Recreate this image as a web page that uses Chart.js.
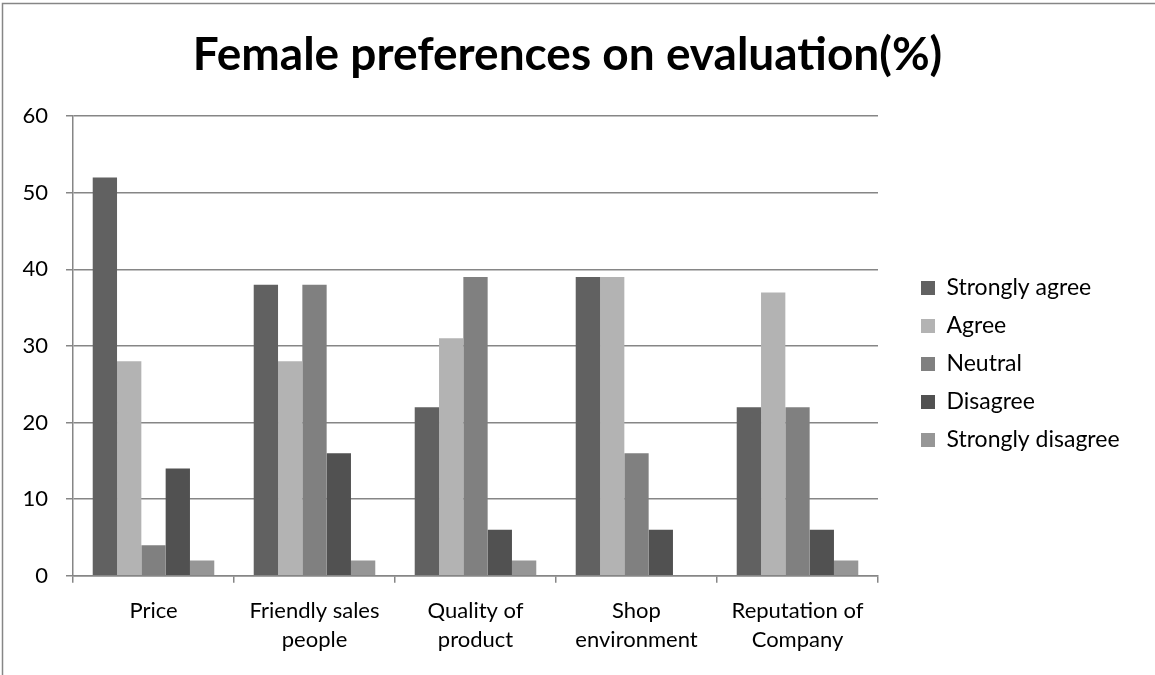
<!DOCTYPE html>
<html>
<head>
<meta charset="utf-8">
<script src="https://cdn.jsdelivr.net/npm/chart.js@4"></script>
<style>
  html, body { margin: 0; padding: 0; background: #fff; }
  #wrap { width: 1155px; height: 675px; }
</style>
</head>
<body>
<div id="wrap"><canvas id="evalChart" width="1155" height="675"></canvas></div>
<script>
const categories = [['Price'], ['Friendly sales', 'people'], ['Quality of', 'product'], ['Shop', 'environment'], ['Reputation of', 'Company']];
const seriesNames = ['Strongly agree', 'Agree', 'Neutral', 'Disagree', 'Strongly disagree'];
const stronglyAgree = [52, 38, 22, 39, 22];
const agree = [28, 28, 31, 39, 37];
const neutral = [4, 38, 39, 16, 22];
const disagree = [14, 16, 6, 6, 6];
const stronglyDisagree = [2, 2, 2, 0, 2];
const yTicks = [0, 10, 20, 30, 40, 50, 60];

const colors = ['#616161', '#b3b3b3', '#808080', '#515151', '#969696'];
const allValues = [stronglyAgree, agree, neutral, disagree, stronglyDisagree];
const fontName = 'Lato, "Liberation Sans", sans-serif';

// frame round the chart, only left and top edges show
const framePlugin = {
    id: 'frame',
    beforeDraw(chart) {
        const c = chart.ctx;
        c.save();
        c.fillStyle = '#fff';
        c.fillRect(0, 0, chart.width, chart.height);
        c.strokeStyle = '#868686';
        c.lineWidth = 1.5;
        c.beginPath();
        c.moveTo(2.5, 675);
        c.lineTo(2.5, 3.5);
        c.lineTo(1155, 3.5);
        c.stroke();
        c.restore();
    }
};

// give the legend a fixed width and nudge it like the excel one
const legendPlugin = {
    id: 'legendPlace',
    beforeLayout(chart) {
        const lg = chart.legend;
        if (lg && !lg._patched) {
            const origFit = lg.fit;
            lg.fit = function() {
                origFit.call(this);
                this.width = 247;
            };
            lg._patched = true;
        }
    },
    afterLayout(chart) {
        const lg = chart.legend;
        lg.left += 28; lg.right += 28;
        lg.top += 30; lg.bottom += 30;
    }
};

const ctx = document.getElementById('evalChart').getContext('2d');
new Chart(ctx, {
    type: 'bar',
    data: {
        labels: categories,
        datasets: seriesNames.map((name, i) => ({
            label: name,
            data: allValues[i],
            backgroundColor: colors[i],
            borderWidth: 0,
            barPercentage: 1.0,
            categoryPercentage: 0.755
        }))
    },
    options: {
        responsive: false,
        animation: false,
        layout: { padding: { left: 10, right: 30, top: 0, bottom: 7 } },
        plugins: {
            title: {
                display: true,
                text: 'Female preferences on evaluation(%)',
                color: '#000',
                font: { family: fontName, size: 46, weight: 'bold' },
                padding: { top: 28, bottom: 33 }
            },
            legend: {
                position: 'right',
                labels: {
                    color: '#000',
                    boxWidth: 14,
                    boxHeight: 14,
                    padding: 15,
                    font: { family: fontName, size: 23 }
                }
            },
            tooltip: { enabled: false }
        },
        scales: {
            x: {
                grid: {
                    offset: true,
                    drawOnChartArea: false,
                    color: '#868686',
                    lineWidth: 1.5,
                    tickLength: 7
                },
                border: { color: '#868686', width: 1.5 },
                ticks: {
                    color: '#000',
                    maxRotation: 0,
                    autoSkip: false,
                    padding: 14,
                    font: { family: fontName, size: 22, lineHeight: 1.3 }
                }
            },
            y: {
                min: 0,
                max: 60,
                afterFit(scale) { scale.width = 63; },
                afterBuildTicks(scale) { scale.ticks = yTicks.map(v => ({ value: v })); },
                grid: { color: '#868686', lineWidth: 1.5, tickLength: 7 },
                border: { color: '#868686', width: 1.5 },
                ticks: {
                    color: '#000',
                    padding: 18,
                    font: { family: fontName, size: 22 }
                }
            }
        }
    },
    plugins: [framePlugin, legendPlugin]
});
</script>
</body>
</html>
